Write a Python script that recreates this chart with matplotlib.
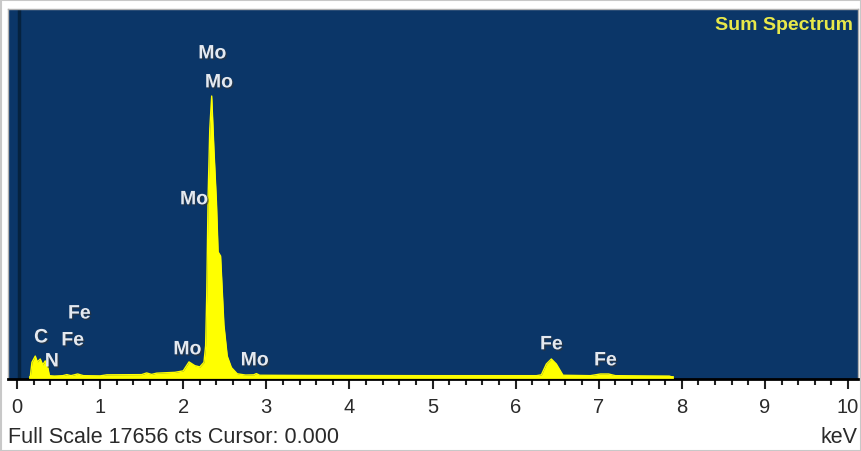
import matplotlib
matplotlib.use("Agg")
import matplotlib.pyplot as plt
import matplotlib.patheffects as pe
from matplotlib.patches import Rectangle
from matplotlib.ticker import MultipleLocator

plt.rcParams['font.family'] = ['Liberation Sans', 'DejaVu Sans']

# Spectrum (keV, counts)
energy = [0.16, 0.18, 0.22, 0.245, 0.28, 0.31, 0.34, 0.37, 0.39, 0.45, 0.55, 0.60, 0.65,
          0.73, 0.80, 1.00, 1.08, 1.50, 1.56, 1.62, 1.68, 1.90, 2.00, 2.07, 2.14, 2.20,
          2.25, 2.27, 2.283, 2.30, 2.32, 2.343, 2.37, 2.40, 2.42, 2.45, 2.49, 2.53, 2.58,
          2.65, 2.75, 2.85, 2.88, 2.92, 3.5, 5.0, 6.25, 6.31, 6.37, 6.43, 6.49, 6.57,
          6.9, 7.02, 7.12, 7.2, 7.85, 7.88]
counts = [0, 700, 1000, 720, 860, 580, 770, 480, 60, 40, 60, 110, 60,
          140, 60, 50, 100, 110, 190, 120, 180, 220, 290, 720, 540, 480,
          700, 1500, 3900, 8700, 11900, 13480, 10900, 8400, 6000, 5800, 2500, 1000, 450,
          150, 90, 100, 160, 80, 70, 60, 60, 100, 620, 860, 620, 80,
          60, 140, 140, 60, 40, 0]

# Peak labels (text, keV, counts)
label_text = ["Mo", "Mo", "Mo", "Mo", "Mo", "C", "N", "Fe", "Fe", "Fe", "Fe"]
label_x = [2.35, 2.43, 2.13, 2.05, 2.86, 0.29, 0.42, 0.75, 0.67, 6.43, 7.08]
label_y = [15500, 14110, 8500, 1300, 770, 1870, 720, 3020, 1730, 1540, 770]

x_ticks = [0, 1, 2, 3, 4, 5, 6, 7, 8, 9, 10]
full_scale = 17656

fig = plt.figure(figsize=(8.62, 4.52), dpi=100)
fig.patch.set_facecolor('white')
fig.patches.append(Rectangle((0.001, 0.001), 0.998, 0.996, transform=fig.transFigure,
                             fill=False, edgecolor='#c8c8c8', linewidth=1.5))

ax = fig.add_axes([8/862, 1-380/452, 850/862, 370/452])
ax.set_facecolor('#0b3668')
ax.set_xlim(-0.108, 10.12)
ax.set_ylim(-100, full_scale)

ax.axvline(0.03, color='#05223f', lw=2.5, zorder=1)
ax.fill_between(energy, 0, counts, color='#ffff00', lw=0, zorder=2)
ax.plot(energy, counts, color='#ffff00', lw=1, zorder=3)
ax.plot([energy[0], energy[-1]], [0, 0], color='#ffff00', lw=2, zorder=3)

for t, x, y in zip(label_text, label_x, label_y):
    ax.text(x, y, t, ha='center', va='center', fontsize=14, color='#e4e9f0',
            fontweight='bold', zorder=4,
            path_effects=[pe.withSimplePatchShadow(offset=(1, -1), shadow_rgbFace='#333333', alpha=0.6)])

ax.text(0.994, 0.958, "Sum Spectrum", transform=ax.transAxes, ha='right', va='center',
        fontsize=14, color='#e8e84a', fontweight='bold')

for s in ['top', 'right', 'left']:
    ax.spines[s].set_color('#b0b0b0')
    ax.spines[s].set_linewidth(1)
ax.spines['bottom'].set_color('black')
ax.spines['bottom'].set_linewidth(2)

ax.set_xticks(x_ticks)
ax.set_xticklabels([str(t) for t in x_ticks])
ax.xaxis.set_minor_locator(MultipleLocator(0.2))
ax.tick_params(axis='x', which='major', length=7, width=1.5, color='#222222',
               labelsize=14.5, labelcolor='#2a2a2a', pad=6)
ax.tick_params(axis='x', which='minor', length=4, width=1.5, color='#222222')
ax.set_yticks([])

fig.text(8/862, 1-438/452, f"Full Scale {full_scale} cts Cursor: 0.000", ha='left', va='center',
         fontsize=15.5, color='#2a2a2a')
fig.text(858/862, 1-438/452, "keV", ha='right', va='center', fontsize=15.5, color='#2a2a2a')

fig.savefig("out.png", dpi=100, facecolor='white')
